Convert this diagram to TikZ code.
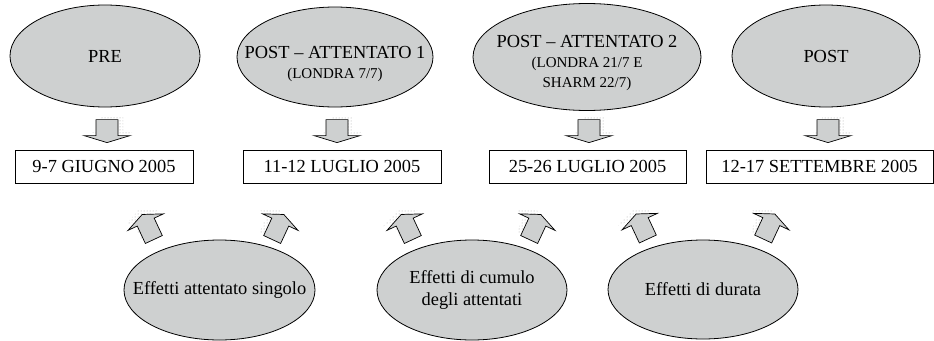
\documentclass[tikz,border=0pt]{standalone}
\usepackage{fontspec}
\setmainfont{Liberation Serif}
\usetikzlibrary{shapes.geometric,patterns,calc}

\definecolor{ovalgray}{RGB}{206,208,208}
\newcommand{\bigfont}{\fontsize{18.4}{20}\selectfont}
\newcommand{\smallfont}{\fontsize{15}{20}\selectfont}

\tikzset{
  oval/.style={ellipse,draw,line width=0.8pt,fill=ovalgray,inner sep=0pt},
  ovaltext/.style={align=center,inner sep=0pt,font=\bigfont},
  datebox/.style={rectangle,draw,line width=0.8pt,minimum height=33pt,inner sep=0pt,font=\bigfont},
  dotshadow/.style={pattern=dots,pattern color=gray!70},
  arrowbody/.style={draw,line width=0.7pt,fill=ovalgray}
}

% block arrow (pointing down before rotation): position, rotation, shadow offset, shape
\newcommand{\blockarrow}[4]{%
  \path[dotshadow,shift={#1},shift={#3},rotate=#2,#4]
    (-11,-11.5) -- (11,-11.5) -- (11,4.5) -- (23,4.5) -- (0,11.5)
    -- (-23,4.5) -- (-11,4.5) -- cycle;
  \draw[arrowbody,shift={#1},rotate=#2,#4]
    (-11,-11.5) -- (11,-11.5) -- (11,4.5) -- (23,4.5) -- (0,11.5)
    -- (-23,4.5) -- (-11,4.5) -- cycle;
}

\begin{document}
\begin{tikzpicture}[x=1pt,y=-1pt]
  \useasboundingbox (0,0) rectangle (934,340);
  % periods
  \node[oval,minimum width=190pt,minimum height=102pt] (pre) at (105,56) {};
  \node[oval,minimum width=196pt,minimum height=100pt] (att1) at (335,57) {};
  \node[oval,minimum width=228pt,minimum height=107pt] (att2) at (587,57) {};
  \node[oval,minimum width=188pt,minimum height=102pt] (post) at (826,56) {};
  \node[ovaltext] (pre-t) at (pre) {PRE};
  \node[ovaltext] (att1-t) at (335,64) {POST -- ATTENTATO 1\\{\smallfont (LONDRA 7/7)}};
  \node[ovaltext] (att2-t) at (587,63) {POST -- ATTENTATO 2\\{\smallfont (LONDRA 21/7 E}\\{\smallfont SHARM 22/7)}};
  \node[ovaltext] (post-t) at (post) {POST};
  % survey dates
  \node[datebox,minimum width=178pt] (d1) at (104,166.5) {9-7 GIUGNO 2005};
  \node[datebox,minimum width=198pt] (d2) at (342,166.5) {11-12 LUGLIO 2005};
  \node[datebox,minimum width=197pt] (d3) at (587.5,166.5) {25-26 LUGLIO 2005};
  \node[datebox,minimum width=227pt] (d4) at (819.5,166.5) {12-17 SETTEMBRE 2005};
  % effects
  \node[oval,minimum width=191pt,minimum height=100pt] (eff1) at (219.5,290) {};
  \node[oval,minimum width=190pt,minimum height=100pt] (eff2) at (472,290) {};
  \node[oval,minimum width=190pt,minimum height=99pt] (eff3) at (703,289.5) {};
  \node[ovaltext] (eff1-t) at (eff1) {Effetti attentato singolo};
  \node[ovaltext] (eff2-t) at (eff2) {Effetti di cumulo\\[2pt]degli attentati};
  \node[ovaltext] (eff3-t) at (eff3) {Effetti di durata};
  % arrows
  \foreach \e/\d in {pre/d1,att1/d2,att2/d3,post/d4}
    {\blockarrow{($(\e |- \d.north)+(2,-18.5)$)}{0}{(5,-4)}{}}
  \foreach \e/\l/\r in {eff1/-71.5/58.5,eff2/-65/63,eff3/-61/66}
    {\blockarrow{($(\e)+(\l,-63)$)}{205}{(-4,-4)}{xscale=0.85,yscale=1.2}
     \blockarrow{($(\e)+(\r,-63)$)}{155}{(-4,-4)}{xscale=0.85,yscale=1.2}}
\end{tikzpicture}
\end{document}
